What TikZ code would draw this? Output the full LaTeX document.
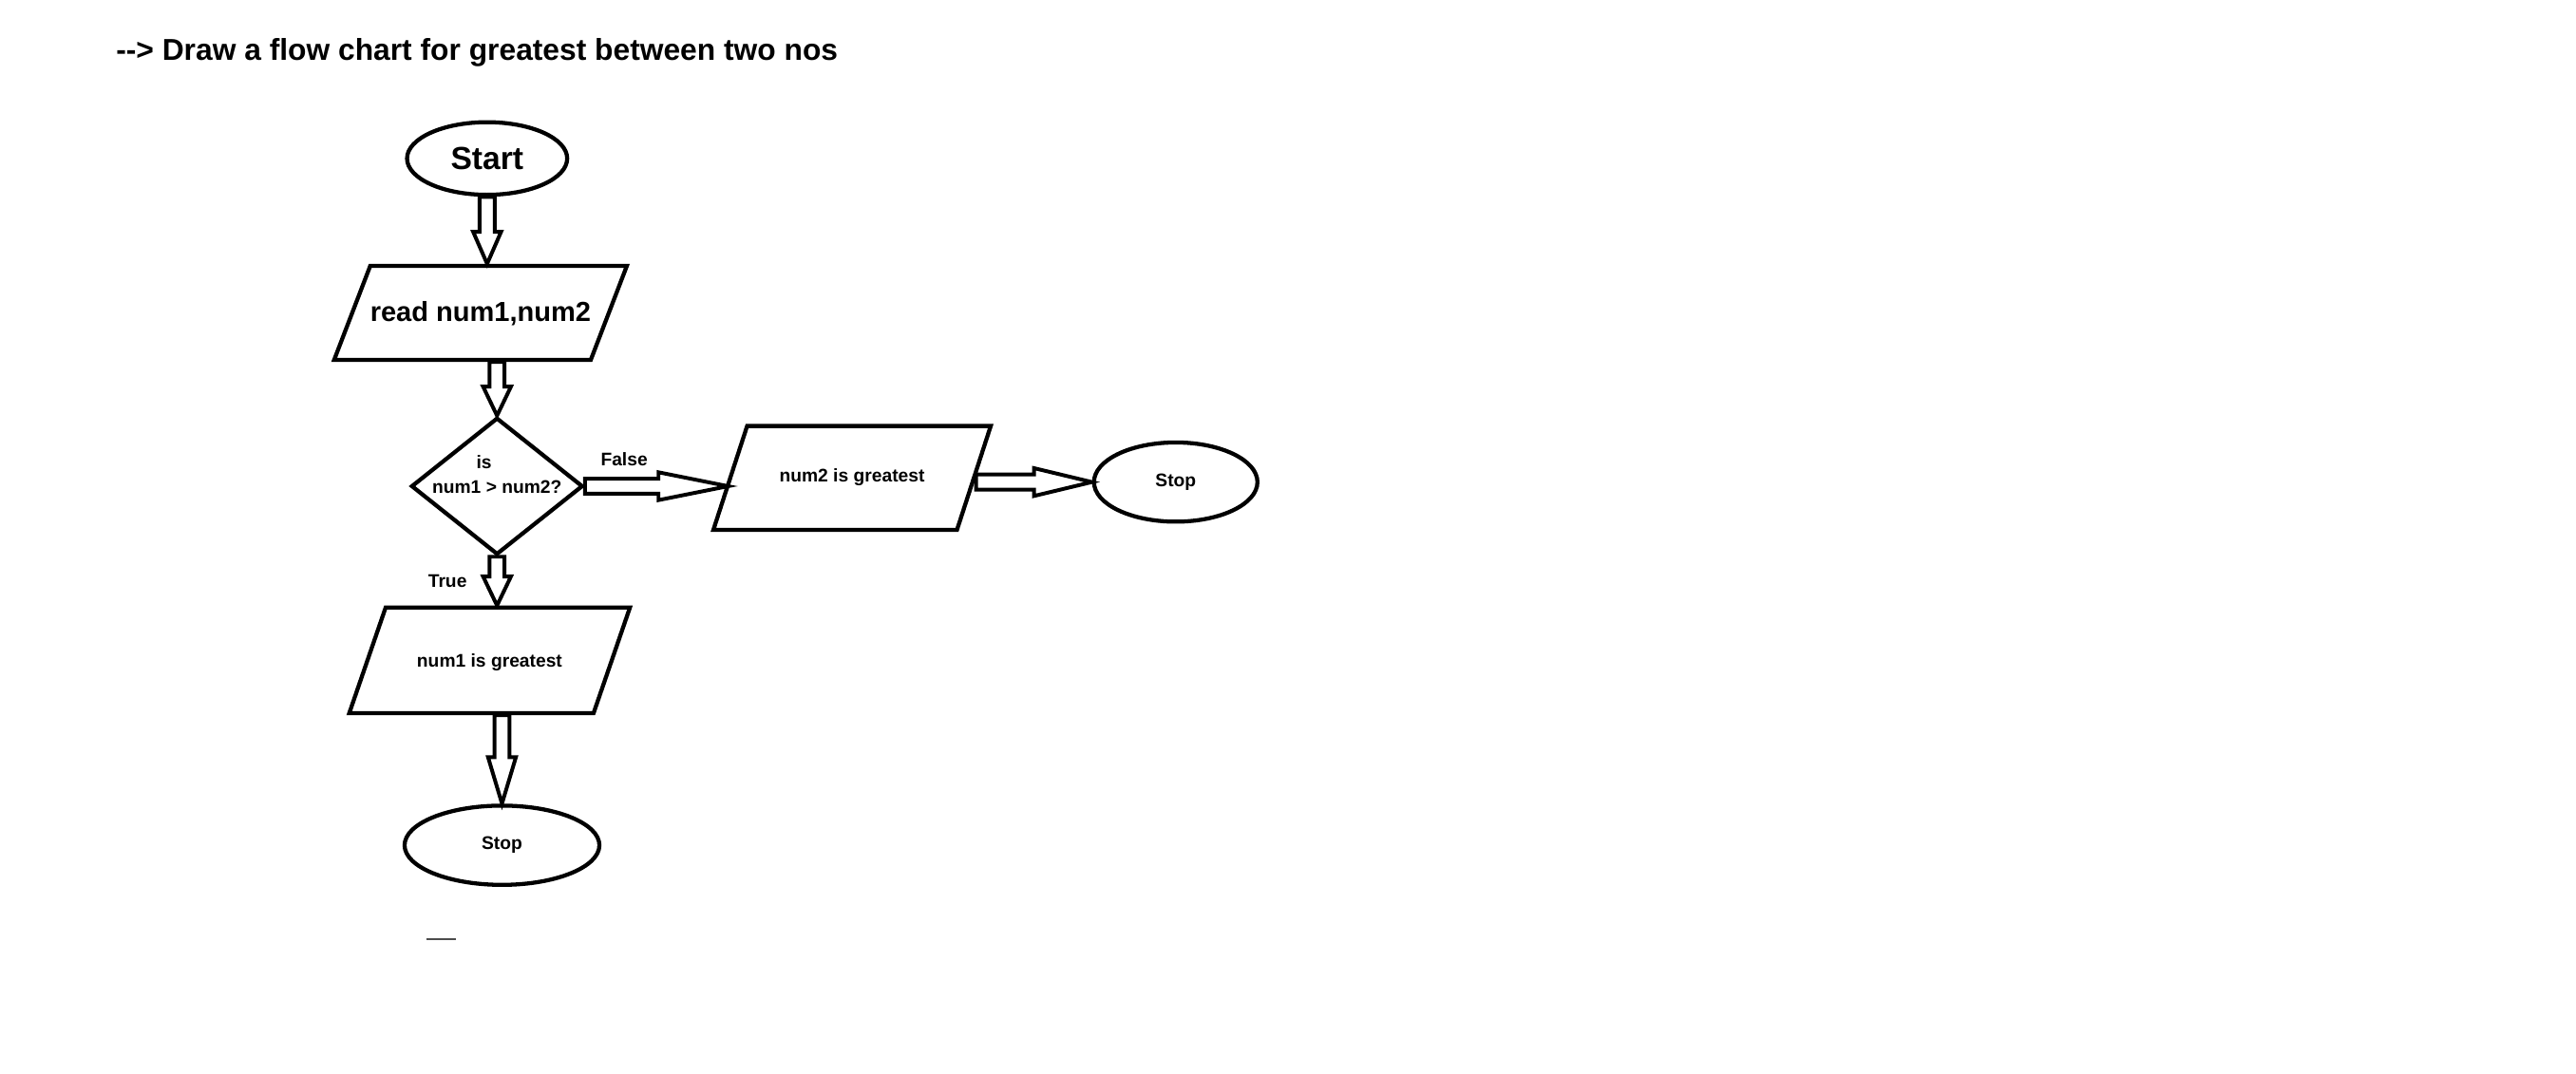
\documentclass[tikz,border=0pt]{standalone}
\usepackage{fontspec}
\setmainfont{Liberation Sans}
\usetikzlibrary{shapes.geometric, positioning, calc}

\tikzset{
  fat/.style={to path={
      let \p1=(\tikztostart), \p2=(\tikztotarget),
          \n1={atan2(\y2-\y1,\x2-\x1)}, \n2={veclen(\x2-\x1,\y2-\y1)} in
      {[shift={(\p1)}, rotate=\n1]
        (0pt,-2.6pt) -- ({\n2*1pt-#1},-2.6pt) -- ({\n2*1pt-#1},-4.8pt) -- ({\n2*1pt},0pt)
        -- ({\n2*1pt-#1},4.8pt) -- ({\n2*1pt-#1},2.6pt) -- (0pt,2.6pt) -- cycle}}},
  fat/.default=11pt
}

\begin{document}
\begin{tikzpicture}[x=0.02cm, y=-0.02cm,
        every node/.style={font=\bfseries},
        term/.style={draw, ellipse, line width=1.4pt, inner sep=0pt},
        io/.style={draw, trapezium, trapezium stretches body, trapezium left angle=70,
                   trapezium right angle=110, line width=1.4pt, inner sep=0pt},
        decision/.style={draw, diamond, line width=1.4pt, inner sep=0pt,
                         minimum width=2.08cm, minimum height=1.66cm},
        small/.style={font=\bfseries\fontsize{6.3}{8.5}\selectfont},
        arrow/.style={line width=1.3pt, line join=miter}
    ]

    \useasboundingbox[fill=white] (0,0) rectangle (1560,650);

    % Title
    \node[anchor=west, inner sep=0pt, font=\bfseries\fontsize{10.4}{12}\selectfont]
        (title) at (70,32) {-{}-> Draw a flow chart for greatest between two nos};

    % Main column
    \node[term, minimum width=1.94cm, minimum height=0.88cm,
          font=\bfseries\fontsize{11}{13}\selectfont] (start) at (295,96) {Start};
    \node[io, minimum width=3.3cm, text height=19.2pt, text depth=13.2pt,
          trapezium left angle=69, trapezium right angle=111,
          font=\bfseries\fontsize{9.5}{11}\selectfont]
          (read) at (291,189.5) {read num1,num2};
    \node[decision, label={[small, align=center, yshift=0.14cm]center:{is\hspace*{9pt}\\num1 > num2?}}]
          (check) at (301,294.5) {};
    \node[io, small, minimum width=3.4cm, text height=20.4pt, text depth=16pt,
          trapezium left angle=71, trapezium right angle=109]
          (num1) at (296.5,400) {num1 is greatest};
    \node[term, small, minimum width=2.36cm, minimum height=0.96cm] (stop1) at (304,512) {Stop};

    % Right branch
    \node[io, small, minimum width=3.36cm, text height=19.3pt, text depth=16.5pt,
          trapezium left angle=72, trapezium right angle=108]
          (num2) at (516,289.5) {num2 is greatest};
    \node[term, small, minimum width=1.98cm, minimum height=0.96cm] (stop2) at (712,292) {Stop};

    % Branch labels
    \node[small] (false) at (378,278) {False};
    \node[small] (true) at (271,352) {True};

    % Arrows
    \draw[arrow, fat=11pt] (start.south) to (start.south |- read.north);
    \draw[arrow, fat=10pt] (check.north |- read.south) to (check.north);
    \draw[arrow, fat=10pt] (check.south) to (check.south |- num1.north);
    \draw[arrow, fat=16pt] (stop1.north |- num1.south) to (stop1.north);
    \draw[arrow, fat=24pt] (check.east) to (check.east -| num2.west);
    \draw[arrow, fat=20pt] (num2.east |- stop2.west) to (stop2.west);

    % stray mark
    \draw[black!70, line width=0.5pt] (258,569) -- (276,569);

\end{tikzpicture}
\end{document}
